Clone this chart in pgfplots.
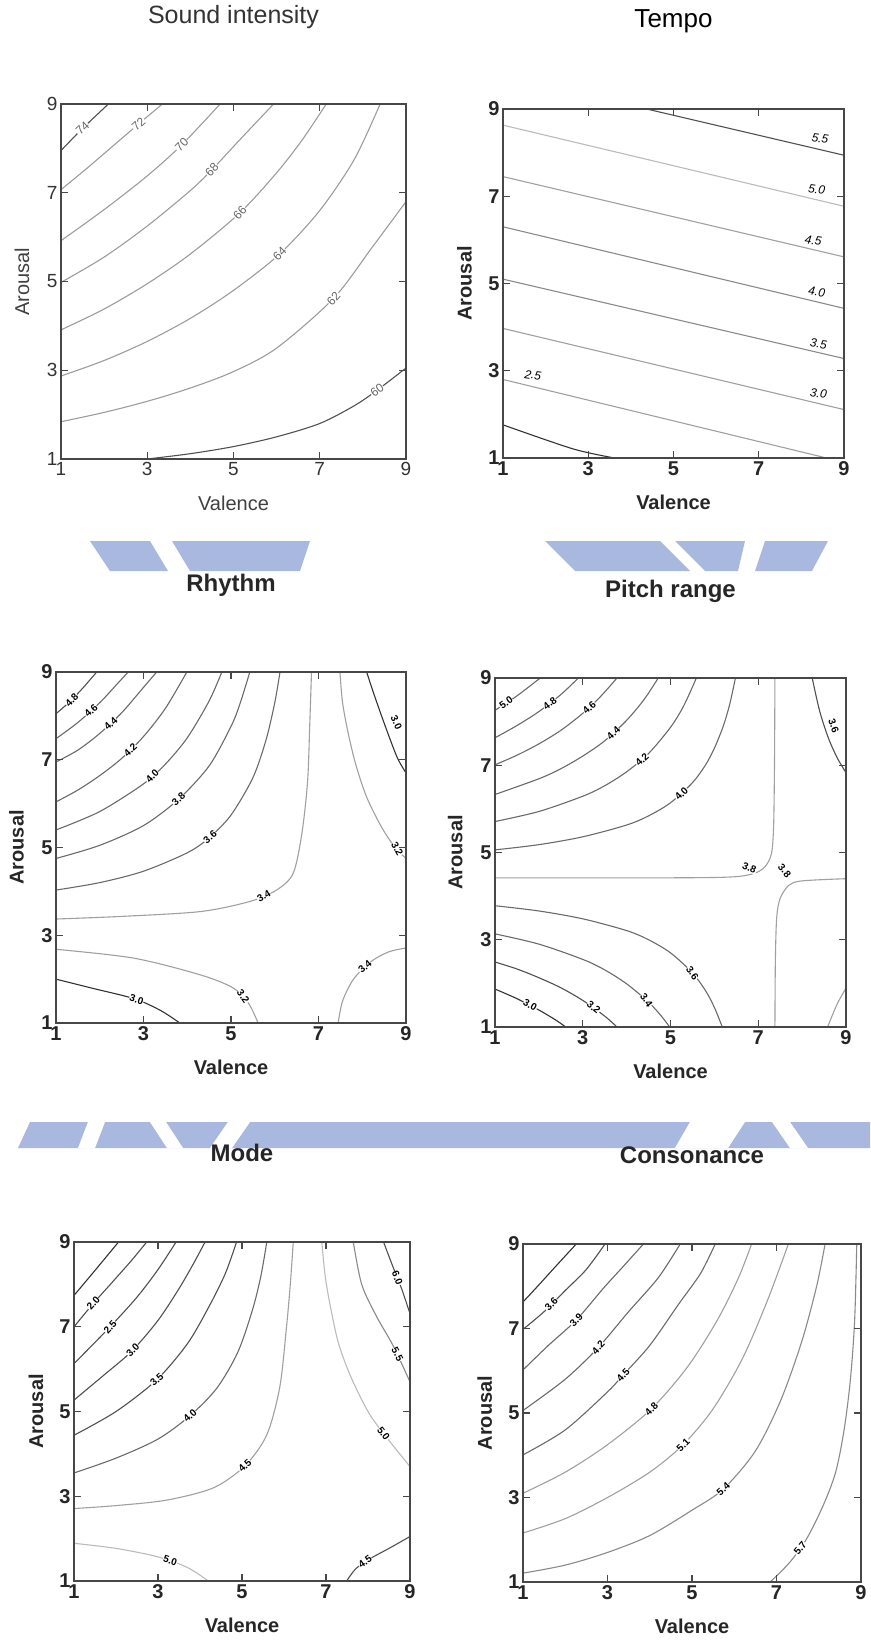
\documentclass[border=0pt]{standalone}
\usepackage{fontspec}
\setmainfont{Liberation Sans}
\usepackage{pgfplots}
\pgfplotsset{compat=1.18}
\definecolor{wm}{RGB}{168,184,222}
\definecolor{g1}{HTML}{333333}
\definecolor{g2}{HTML}{505050}
\definecolor{g3}{HTML}{6A6A6A}
\definecolor{g4}{HTML}{8A8A8A}
\definecolor{g5}{HTML}{A0A0A0}
\definecolor{g6}{HTML}{BBBBBB}
\definecolor{p1}{HTML}{9C9C9C}
\pgfplotsset{
 cpanel/.style={
  scale only axis, anchor=south west,
  xmin=1,xmax=9,ymin=1,ymax=9,
  xtick={1,3,5,7,9}, ytick={1,3,5,7,9},
  tick align=inside, major tick length=7pt,
  axis on top, clip=true,
  axis line style={line width=1.6pt, draw=black!72},
  every tick/.style={line width=1.2pt, black!72},
  xlabel=Valence, ylabel=Arousal,
  xlabel style={at={(axis description cs:0.5,0)}, anchor=base, yshift=-51pt},
  ylabel style={at={(axis description cs:-0.113,0.5)}, anchor=center},
  title style={at={(axis description cs:0.5,1)}, anchor=base, yshift=75pt},
  /pgf/number format/assume math mode=true,
  every axis plot/.append style={smooth, no marks, line width=1.1pt},
 },
 boldpanel/.style={
  cpanel,
  tick label style={font=\fontsize{20}{20}\selectfont\bfseries, text=black!85},
  label style={font=\fontsize{20}{20}\selectfont\bfseries, text=black!85},
  title style={font=\fontsize{24}{24}\selectfont\bfseries, text=black!85},
 },
}
\tikzset{
 clab/.style={font=\fontsize{10}{10}\selectfont\bfseries, fill=white, inner sep=0.4pt, text=black},
 clabA/.style={font=\fontsize{12}{12}\selectfont, fill=white, inner sep=0.5pt, text=black!60},
 clabT/.style={font=\fontsize{12}{12}\selectfont\itshape, inner sep=0.6pt, text=black, rotate=-8},
}
\begin{document}
\begin{tikzpicture}
\path[use as bounding box] (0pt,0pt) rectangle (870pt,-1640pt);
% watermark bands
\fill[wm] (90pt,-541pt) -- (150pt,-541pt) -- (168pt,-571pt) -- (110pt,-571pt) -- cycle;
\fill[wm] (172pt,-541pt) -- (310pt,-541pt) -- (300pt,-571pt) -- (190pt,-571pt) -- cycle;
\fill[wm] (545pt,-541pt) -- (660pt,-541pt) -- (690pt,-571pt) -- (575pt,-571pt) -- cycle;
\fill[wm] (675pt,-541pt) -- (745pt,-541pt) -- (738pt,-571pt) -- (705pt,-571pt) -- cycle;
\fill[wm] (765pt,-541pt) -- (828pt,-541pt) -- (812pt,-571pt) -- (755pt,-571pt) -- cycle;
\fill[wm] (18pt,-1148pt) -- (30pt,-1122pt) -- (870pt,-1122pt) -- (870pt,-1148pt) -- cycle;
\fill[white] (88pt,-1122pt) -- (105pt,-1122pt) -- (95pt,-1148pt) -- (78pt,-1148pt) -- cycle;
\fill[white] (150pt,-1122pt) -- (166pt,-1122pt) -- (183pt,-1148pt) -- (167pt,-1148pt) -- cycle;
\fill[white] (228pt,-1122pt) -- (250pt,-1122pt) -- (232pt,-1148pt) -- (210pt,-1148pt) -- cycle;
\fill[white] (690pt,-1122pt) -- (745pt,-1122pt) -- (728pt,-1148pt) -- (675pt,-1148pt) -- cycle;
\fill[white] (772pt,-1122pt) -- (790pt,-1122pt) -- (808pt,-1148pt) -- (790pt,-1148pt) -- cycle;

% ---------------- Sound intensity
\begin{axis}[cpanel, at={(61pt,-459pt)}, width=345pt, height=355pt,
  title={Sound intensity},
  tick label style={font=\fontsize{19}{19}\selectfont, text=black!80},
  label style={font=\fontsize{20}{20}\selectfont, text=black!75},
  title style={font=\fontsize{25}{25}\selectfont, text=black!80}]
\addplot[g2] coordinates {(1,7.95) (1.5,8.45) (2.1,9)};
\addplot[p1] coordinates {(1,7.07) (1.6,7.55) (2.2,8.05) (2.8,8.55) (3.35,9)};
\addplot[p1] coordinates {(1,5.92) (2,6.62) (3,7.38) (3.8,8.08) (4.69,9)};
\addplot[p1] coordinates {(1,4.98) (2,5.55) (3,6.25) (4,7.05) (4.5,7.52) (5.2,8.25) (5.93,9)};
\addplot[p1] coordinates {(1,3.91) (2,4.38) (3,4.95) (4,5.62) (5.15,6.55) (6,7.45) (6.6,8.2) (7.15,9)};
\addplot[p1] coordinates {(1,2.87) (2,3.22) (3,3.65) (4,4.17) (5,4.8) (6.07,5.62) (7,6.6) (7.8,7.75) (8.4,9)};
\addplot[p1] coordinates {(1,1.84) (2,2.05) (3,2.3) (4,2.6) (5,2.97) (6,3.5) (7.32,4.62) (8.2,5.75) (9,6.8)};
\addplot[g2] coordinates {(3,1) (4,1.12) (5,1.28) (6,1.5) (7,1.8) (7.8,2.2) (8.33,2.55) (9,3.05)};
\node[clabA, rotate=43] at (axis cs:1.5,8.45) {74};
\node[clabA, rotate=42] at (axis cs:2.8,8.55) {72};
\node[clabA, rotate=45] at (axis cs:3.8,8.08) {70};
\node[clabA, rotate=47] at (axis cs:4.5,7.52) {68};
\node[clabA, rotate=47] at (axis cs:5.15,6.55) {66};
\node[clabA, rotate=45] at (axis cs:6.07,5.62) {64};
\node[clabA, rotate=48] at (axis cs:7.32,4.62) {62};
\node[clabA, rotate=35] at (axis cs:8.33,2.55) {60};
\end{axis}

% ---------------- Tempo
\begin{axis}[cpanel, at={(503pt,-458pt)}, width=341pt, height=349pt,
  title={Tempo},
  tick label style={font=\fontsize{20}{20}\selectfont\bfseries, text=black!85},
  label style={font=\fontsize{20}{20}\selectfont\bfseries, text=black!85},
  title style={font=\fontsize{26}{26}\selectfont, text=black}]
\addplot[g2, sharp plot] coordinates {(4.37,9) (9,7.94)};
\addplot[g6, sharp plot] coordinates {(1,8.63) (9,6.77)};
\addplot[g5, sharp plot] coordinates {(1,7.45) (9,5.61)};
\addplot[g4, sharp plot] coordinates {(1,6.30) (9,4.43)};
\addplot[g4, sharp plot] coordinates {(1,5.10) (9,3.28)};
\addplot[g5, sharp plot] coordinates {(1,3.97) (9,2.11)};
\addplot[g5, sharp plot] coordinates {(1,2.80) (8.59,1)};
\addplot[g1] coordinates {(1,1.76) (2.64,1.21) (3.62,1)};
\node[clabT] at (axis cs:8.44,8.33) {5.5};
\node[clabT] at (axis cs:8.36,7.16) {5.0};
\node[clabT] at (axis cs:8.28,5.99) {4.5};
\node[clabT] at (axis cs:8.36,4.81) {4.0};
\node[clabT] at (axis cs:8.40,3.62) {3.5};
\node[clabT] at (axis cs:8.40,2.48) {3.0};
\node[clabT] at (axis cs:1.70,2.90) {2.5};
\end{axis}

% ---------------- Rhythm
\begin{axis}[boldpanel, at={(56pt,-1023pt)}, width=350pt, height=351pt,
  title={Rhythm}]
\addplot[g2] coordinates {(1,8.05) (1.3,8.31) (1.6,8.62) (1.93,9)};
\addplot[g3] coordinates {(1,7.48) (1.5,7.85) (2,8.3) (2.4,8.73) (2.65,9)};
\addplot[g3] coordinates {(1,6.95) (1.5,7.22) (2,7.6) (2.5,8.07) (3,8.65) (3.3,9)};
\addplot[g3] coordinates {(1,6.04) (1.5,6.31) (2,6.64) (2.5,7.03) (3,7.53) (3.5,8.17) (3.99,9)};
\addplot[g3] coordinates {(1,5.40) (2,5.82) (3,6.45) (3.5,6.9) (4,7.5) (4.5,8.34) (4.79,9)};
\addplot[g3] coordinates {(1,4.75) (2,5.05) (3,5.50) (3.8,6.10) (4.5,6.86) (5,7.76) (5.2,8.26) (5.43,9)};
\addplot[g3] coordinates {(1,4.03) (2,4.2) (3,4.46) (4,4.88) (4.5,5.22) (5,5.74) (5.5,6.59) (5.8,7.45) (6.0,8.3) (6.12,9)};
\addplot[g5] coordinates {(1,3.37) (2.5,3.43) (4.3,3.54) (5.43,3.77) (6.04,4.03) (6.42,4.41) (6.62,5.32) (6.75,6.5) (6.8,7.8) (6.84,9)};
\addplot[g5] coordinates {(7.49,9) (7.55,8.3) (7.68,7.6) (7.85,6.9) (8.1,6.15) (8.45,5.45) (8.75,5.0) (9,4.75)};
\addplot[g1] coordinates {(8.1,9) (8.3,8.4) (8.55,7.7) (8.8,7.05) (9,6.7)};
\addplot[g5] coordinates {(1,2.68) (2.77,2.48) (4.29,2.10) (5.05,1.80) (5.4,1.45) (5.62,1)};
\addplot[g1] coordinates {(1,2.0) (1.8,1.8) (2.8,1.55) (3.4,1.28) (3.83,1)};
\addplot[g5] coordinates {(7.45,1) (7.55,1.5) (7.8,2.0) (8.2,2.4) (8.6,2.62) (9,2.71)};
\node[clab, rotate=45] at (axis cs:1.36,8.37) {4.8};
\node[clab, rotate=42] at (axis cs:1.8,8.12) {4.6};
\node[clab, rotate=42] at (axis cs:2.25,7.82) {4.4};
\node[clab, rotate=42] at (axis cs:2.7,7.22) {4.2};
\node[clab, rotate=45] at (axis cs:3.2,6.62) {4.0};
\node[clab, rotate=42] at (axis cs:3.8,6.1) {3.8};
\node[clab, rotate=40] at (axis cs:4.52,5.24) {3.6};
\node[clab, rotate=30] at (axis cs:5.75,3.9) {3.4};
\node[clab, rotate=-65] at (axis cs:8.78,7.85) {3.0};
\node[clab, rotate=-62] at (axis cs:8.8,4.97) {3.2};
\node[clab, rotate=-55] at (axis cs:5.28,1.6) {3.2};
\node[clab, rotate=-18] at (axis cs:2.84,1.54) {3.0};
\node[clab, rotate=40] at (axis cs:8.06,2.28) {3.4};
\end{axis}

% ---------------- Pitch range
\begin{axis}[boldpanel, at={(495pt,-1027pt)}, width=351pt, height=349pt,
  title={Pitch range}]
\addplot[g3] coordinates {(1,8.26) (1.5,8.59) (2.03,9)};
\addplot[g3] coordinates {(1,7.63) (1.5,7.91) (2,8.23) (2.5,8.62) (2.9,9)};
\addplot[g3] coordinates {(1,7.01) (1.5,7.23) (2,7.49) (2.5,7.80) (3,8.19) (3.4,8.57) (3.78,9)};
\addplot[g3] coordinates {(1,6.33) (2,6.69) (2.5,6.92) (3,7.21) (3.5,7.56) (4,8.03) (4.4,8.51) (4.72,9)};
\addplot[g3] coordinates {(1,5.71) (2,5.94) (3,6.29) (3.5,6.53) (4,6.85) (4.5,7.27) (5,7.87) (5.3,8.36) (5.59,9)};
\addplot[g3] coordinates {(1,5.06) (2,5.18) (3,5.36) (4,5.63) (4.5,5.84) (5,6.14) (5.5,6.60) (5.8,7.01) (6.0,7.39) (6.2,7.89) (6.35,8.40) (6.48,9)};
\addplot[g5] coordinates {(1,4.42) (5,4.42) (6.4,4.44) (6.9,4.52) (7.15,4.67) (7.3,4.97) (7.35,5.6) (7.37,7) (7.38,9)};
\addplot[g5] coordinates {(7.38,1) (7.39,2.5) (7.42,3.5) (7.5,3.95) (7.7,4.25) (8.0,4.35) (9,4.4)};
\addplot[g3] coordinates {(1,3.78) (2,3.66) (3,3.48) (4,3.21) (4.5,3.0) (5,2.70) (5.5,2.24) (5.8,1.83) (6.0,1.45) (6.18,1)};
\addplot[g3] coordinates {(1,3.135) (2,2.90) (3,2.55) (3.5,2.31) (4,1.99) (4.5,1.57) (4.8,1.24) (4.98,1)};
\addplot[g2] coordinates {(1,2.49) (1.5,2.33) (2,2.13) (2.5,1.90) (3,1.61) (3.5,1.25) (3.78,1)};
\addplot[g1] coordinates {(1,1.87) (1.5,1.65) (2,1.39) (2.4,1.15) (2.61,1)};
\addplot[g2] coordinates {(8.23,9) (8.4,8.24) (8.6,7.62) (8.8,7.17) (9,6.83)};
\addplot[g5] coordinates {(8.58,1) (8.8,1.53) (9,1.89)};
\node[clab, rotate=35] at (axis cs:1.25,8.43) {5.0};
\node[clab, rotate=37] at (axis cs:2.25,8.42) {4.8};
\node[clab, rotate=42] at (axis cs:3.15,8.32) {4.6};
\node[clab, rotate=43] at (axis cs:3.7,7.73) {4.4};
\node[clab, rotate=42] at (axis cs:4.35,7.13) {4.2};
\node[clab, rotate=45] at (axis cs:5.25,6.35) {4.0};
\node[clab, rotate=-22] at (axis cs:6.8,4.64) {3.8};
\node[clab, rotate=-50] at (axis cs:7.6,4.58) {3.8};
\node[clab, rotate=-55] at (axis cs:5.5,2.24) {3.6};
\node[clab, rotate=-55] at (axis cs:4.45,1.62) {3.4};
\node[clab, rotate=-40] at (axis cs:3.25,1.45) {3.2};
\node[clab, rotate=-30] at (axis cs:1.8,1.5) {3.0};
\node[clab, rotate=-70] at (axis cs:8.72,7.9) {3.6};
\end{axis}

% ---------------- Mode
\begin{axis}[boldpanel, at={(74pt,-1581pt)}, width=336pt, height=339pt,
  title={Mode}]
\addplot[g1] coordinates {(1,7.74) (1.5,8.33) (2.06,9)};
\addplot[g2] coordinates {(1,7.0) (1.46,7.55) (2.0,8.15) (2.4,8.6) (2.73,9)};
\addplot[g2] coordinates {(1,6.13) (1.86,7.0) (2.5,7.7) (3.0,8.35) (3.43,9)};
\addplot[g2] coordinates {(1,5.27) (1.7,5.85) (2.37,6.42) (3.0,7.15) (3.5,7.9) (3.85,8.5) (4.12,9)};
\addplot[g2] coordinates {(1,4.44) (2,5.0) (2.97,5.75) (3.7,6.6) (4.2,7.45) (4.6,8.25) (4.87,9)};
\addplot[g3] coordinates {(1,3.55) (2,3.9) (3,4.35) (3.76,4.9) (4.4,5.55) (4.9,6.4) (5.25,7.4) (5.45,8.2) (5.59,9)};
\addplot[g5] coordinates {(1,2.71) (2,2.78) (3.21,2.91) (4.32,3.2) (5.07,3.72) (5.59,4.45) (5.90,5.58) (6.06,7.0) (6.15,8) (6.22,9)};
\addplot[g6] coordinates {(6.90,9) (6.98,8.2) (7.1,7.5) (7.3,6.6) (7.6,5.8) (8.0,5.0) (8.37,4.48) (9,3.7)};
\addplot[g4] coordinates {(7.65,9) (7.85,8.0) (8.2,7.25) (8.6,6.55) (9,5.7)};
\addplot[g2] coordinates {(8.37,9) (8.6,8.4) (8.8,7.9) (9,7.31)};
\addplot[g6] coordinates {(1,1.89) (2,1.77) (3,1.57) (3.7,1.32) (4.2,1)};
\addplot[g2] coordinates {(7.49,1) (7.7,1.28) (8.0,1.5) (8.5,1.77) (9,2.05)};
\node[clab, rotate=48] at (axis cs:1.46,7.55) {2.0};
\node[clab, rotate=48] at (axis cs:1.86,7.0) {2.5};
\node[clab, rotate=45] at (axis cs:2.4,6.45) {3.0};
\node[clab, rotate=42] at (axis cs:2.97,5.75) {3.5};
\node[clab, rotate=42] at (axis cs:3.76,4.9) {4.0};
\node[clab, rotate=42] at (axis cs:5.07,3.72) {4.5};
\node[clab, rotate=-52] at (axis cs:8.37,4.48) {5.0};
\node[clab, rotate=-62] at (axis cs:8.7,6.35) {5.5};
\node[clab, rotate=-68] at (axis cs:8.7,8.15) {6.0};
\node[clab, rotate=-18] at (axis cs:3.29,1.48) {5.0};
\node[clab, rotate=35] at (axis cs:7.93,1.46) {4.5};
\end{axis}

% ---------------- Consonance
\begin{axis}[boldpanel, at={(523pt,-1582pt)}, width=338pt, height=338pt,
  title={Consonance}]
\addplot[g1] coordinates {(1,7.63) (1.3,7.95) (1.8,8.5) (2.26,9)};
\addplot[g2] coordinates {(1,6.98) (1.5,7.4) (2.0,7.9) (2.5,8.4) (2.94,9)};
\addplot[g3] coordinates {(1,6.02) (1.6,6.6) (2.26,7.2) (2.9,7.95) (3.4,8.5) (3.85,9)};
\addplot[g3] coordinates {(1,5.06) (2,5.8) (2.78,6.55) (3.5,7.4) (4.2,8.2) (4.72,9)};
\addplot[g3] coordinates {(1,4.01) (2,4.6) (3,5.5) (3.37,5.9) (4,6.6) (4.7,7.6) (5.2,8.3) (5.55,9)};
\addplot[g5] coordinates {(1,3.10) (2,3.6) (3,4.25) (4.04,5.1) (4.9,6.1) (5.6,7.2) (6.1,8.2) (6.41,9)};
\addplot[g5] coordinates {(1,2.16) (2,2.5) (3,3.0) (4,3.6) (4.79,4.25) (5.5,5.1) (6.2,6.3) (6.8,7.7) (7.28,9)};
\addplot[g4] coordinates {(1,1.21) (2,1.4) (3,1.7) (4,2.1) (5,2.7) (5.74,3.2) (6.5,4.1) (7.1,5.3) (7.6,6.7) (7.95,8) (8.15,9)};
\addplot[g4] coordinates {(6.85,1) (7.3,1.45) (7.7,2.0) (8.1,2.8) (8.4,3.6) (8.6,4.6) (8.75,5.8) (8.85,7.2) (8.9,9)};
\node[clab, rotate=45] at (axis cs:1.67,7.57) {3.6};
\node[clab, rotate=45] at (axis cs:2.26,7.2) {3.9};
\node[clab, rotate=47] at (axis cs:2.78,6.55) {4.2};
\node[clab, rotate=47] at (axis cs:3.37,5.9) {4.5};
\node[clab, rotate=45] at (axis cs:4.04,5.1) {4.8};
\node[clab, rotate=45] at (axis cs:4.79,4.25) {5.1};
\node[clab, rotate=42] at (axis cs:5.74,3.2) {5.4};
\node[clab, rotate=50] at (axis cs:7.56,1.8) {5.7};
\end{axis}
\end{tikzpicture}
\end{document}
